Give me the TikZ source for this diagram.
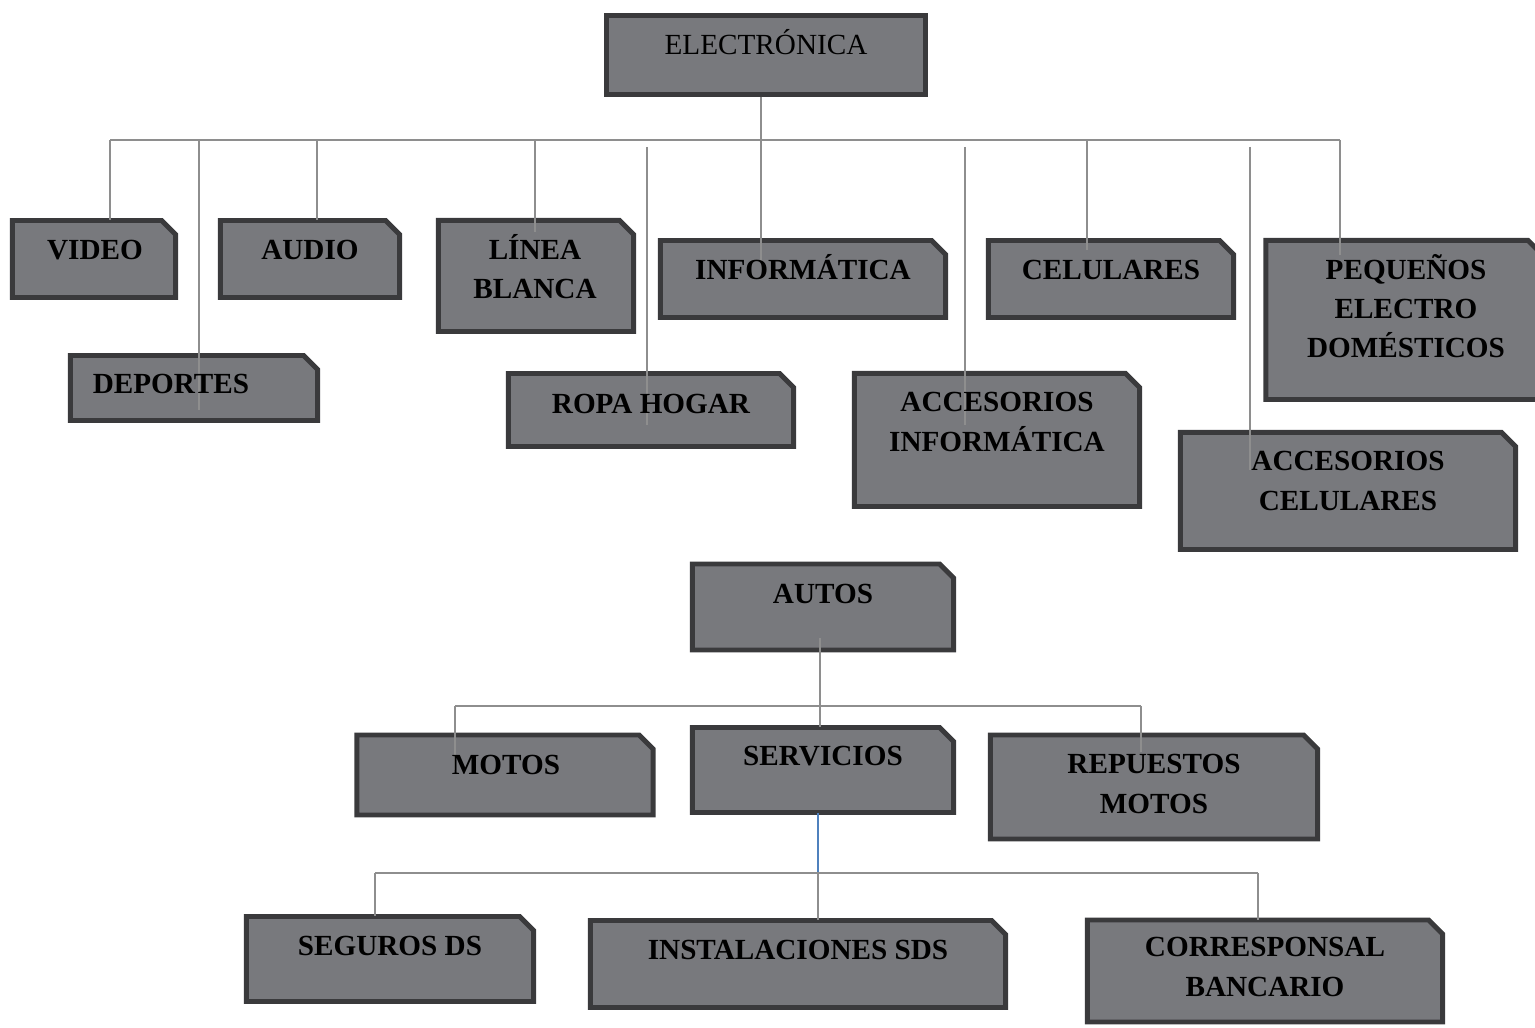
\documentclass[tikz,border=0pt]{standalone}
\usepackage{fontspec}
\setmainfont{Liberation Serif}
\usepackage{tikz}
\usetikzlibrary{shapes,positioning,calc}

\definecolor{cajagris}{HTML}{78797D}
\definecolor{bordegris}{HTML}{3A3A3C}
\definecolor{lineagris}{HTML}{8E8E8E}
\definecolor{lineaazul}{HTML}{4F81BD}

\begin{document}
\begin{tikzpicture}[x=0.01cm, y=-0.01cm,
    caja/.style={rectangle, inner sep=0pt, outer sep=0pt},
    cajaplana/.style={rectangle, draw=bordegris, fill=cajagris, line width=1.4pt, inner sep=0pt},
    trazo/.style={draw=bordegris, fill=cajagris, line width=1.4pt, line join=miter},
    texto/.style={font=\fontsize{8.3}{11.1}\selectfont\bfseries, align=center, inner sep=0pt},
    linea/.style={draw=lineagris, line width=0.55pt}]
    \useasboundingbox (0,0) rectangle (1535,1028);

    % Cajas de electronica
    \node[cajaplana, minimum width=3.18cm, minimum height=0.79cm] (elec) at (766,55) {};
    \node[caja, minimum width=1.63cm, minimum height=0.77cm] (video) at (94,259) {};
    \node[caja, minimum width=1.79cm, minimum height=0.77cm] (audio) at (310,259) {};
    \node[caja, minimum width=2.47cm, minimum height=0.65cm] (deportes) at (194,388) {};
    \node[caja, minimum width=1.95cm, minimum height=1.11cm] (linea) at (536,276) {};
    \node[caja, minimum width=2.85cm, minimum height=0.73cm] (ropa) at (651,410) {};
    \node[caja, minimum width=2.85cm, minimum height=0.77cm] (info) at (803,279) {};
    \node[caja, minimum width=2.85cm, minimum height=1.33cm] (accinfo) at (997,440) {};
    \node[caja, minimum width=2.45cm, minimum height=0.77cm] (celu) at (1111,279) {};
    \node[caja, minimum width=2.76cm, minimum height=1.59cm] (peque) at (1404,320) {};
    \node[caja, minimum width=3.35cm, minimum height=1.17cm] (acccelu) at (1348,491) {};

    % Cajas de autos
    \node[caja, minimum width=2.61cm, minimum height=0.86cm] (autos) at (823,607) {};
    \node[caja, minimum width=2.96cm, minimum height=0.80cm] (motos) at (505,775) {};
    \node[caja, minimum width=2.61cm, minimum height=0.85cm] (serv) at (823,770) {};
    \node[caja, minimum width=3.27cm, minimum height=1.04cm] (repu) at (1154,787) {};
    \node[caja, minimum width=2.87cm, minimum height=0.85cm] (seguros) at (390,959) {};
    \node[caja, minimum width=4.15cm, minimum height=0.87cm] (insta) at (798,964) {};
    \node[caja, minimum width=3.55cm, minimum height=1.02cm] (corres) at (1265,971) {};

    % Esquina recortada
    \foreach \n in {video,audio,deportes,linea,ropa,info,accinfo,celu,peque,acccelu,autos,motos,serv,repu,seguros,insta,corres}
        \filldraw[trazo] (\n.south west) -- (\n.north west) -- ([xshift=-0.14cm]\n.north east)
            -- ([yshift=-0.14cm]\n.north east) -- (\n.south east) -- cycle;

    % Lineas de electronica
    \coordinate (busE1) at (110,140);
    \coordinate (busE2) at (1340,140);
    \coordinate (infoE) at (761,262);
    \coordinate (depT) at (199,140);
    \coordinate (depE) at (199,410);
    \coordinate (audT) at (317,140);
    \coordinate (linT) at (535,140);
    \coordinate (linE) at (535,232);
    \coordinate (ropT) at (647,147);
    \coordinate (ropE) at (647,425);
    \coordinate (aciT) at (965,147);
    \coordinate (aciE) at (965,425);
    \coordinate (celT) at (1087,140);
    \coordinate (celE) at (1087,250);
    \coordinate (accT) at (1250,147);
    \coordinate (accE) at (1250,470);
    \coordinate (pqE) at (1340,255);
    \draw[linea] (busE1) -- (busE2);
    \draw[linea] (elec.south -| infoE) -- (infoE);
    \draw[linea] (busE1) -- (busE1 |- video.north);
    \draw[linea] (depT) -- (depE);
    \draw[linea] (audT) -- (audT |- audio.north);
    \draw[linea] (linT) -- (linE);
    \draw[linea] (ropT) -- (ropE);
    \draw[linea] (aciT) -- (aciE);
    \draw[linea] (celT) -- (celE);
    \draw[linea] (accT) -- (accE);
    \draw[linea] (busE2) -- (pqE);

    % Lineas de autos
    \coordinate (autT) at (820,638);
    \coordinate (busA1) at (455,706);
    \coordinate (busA2) at (1141,706);
    \coordinate (motE) at (455,770);
    \coordinate (repE) at (1141,752);
    \draw[linea] (autT) -- (autT |- serv.north);
    \draw[linea] (busA1) -- (busA2);
    \draw[linea] (busA1) -- (motE);
    \draw[linea] (busA2) -- (repE);

    % Lineas de servicios
    \coordinate (busS1) at (375,873);
    \coordinate (busS2) at (1258,873);
    \coordinate (serB) at (818,873);
    \draw[lineaazul, line width=0.55pt] (serv.south -| serB) -- (serB);
    \draw[linea] (busS1) -- (busS2);
    \draw[linea] (busS1) -- (busS1 |- seguros.north);
    \draw[linea] (serB) -- (serB |- insta.north);
    \draw[linea] (busS2) -- (busS2 |- corres.north);

    % Textos
    \node[texto, font=\fontsize{8.3}{11.1}\selectfont] (elecT) at (766,42) {ELECTRÓNICA};
    \node[texto] (videoT) at (95,250) {VIDEO};
    \node[texto] (audioT) at (310,250) {AUDIO};
    \node[texto] (deportesT) at (171,384) {DEPORTES};
    \node[texto] (lineaT) at (535,267) {LÍNEA\\BLANCA};
    \node[texto] (ropaT) at (651,404) {ROPA HOGAR};
    \node[texto] (infoT) at (803,267) {INFORMÁTICA};
    \node[texto] (accinfoT) at (997,422) {ACCESORIOS\\INFORMÁTICA};
    \node[texto] (celuT) at (1111,270) {CELULARES};
    \node[texto] (pequeT) at (1406,306) {PEQUEÑOS\\ELECTRO\\DOMÉSTICOS};
    \node[texto] (accceluT) at (1348,481) {ACCESORIOS\\CELULARES};
    \node[texto] (autosT) at (823,594) {AUTOS};
    \node[texto] (motosT) at (506,765) {MOTOS};
    \node[texto] (servT) at (823,756) {SERVICIOS};
    \node[texto] (repuT) at (1154,784) {REPUESTOS\\MOTOS};
    \node[texto] (segurosT) at (390,946) {SEGUROS DS};
    \node[texto] (instaT) at (798,950) {INSTALACIONES SDS};
    \node[texto] (corresT) at (1265,967) {CORRESPONSAL\\BANCARIO};
\end{tikzpicture}
\end{document}
